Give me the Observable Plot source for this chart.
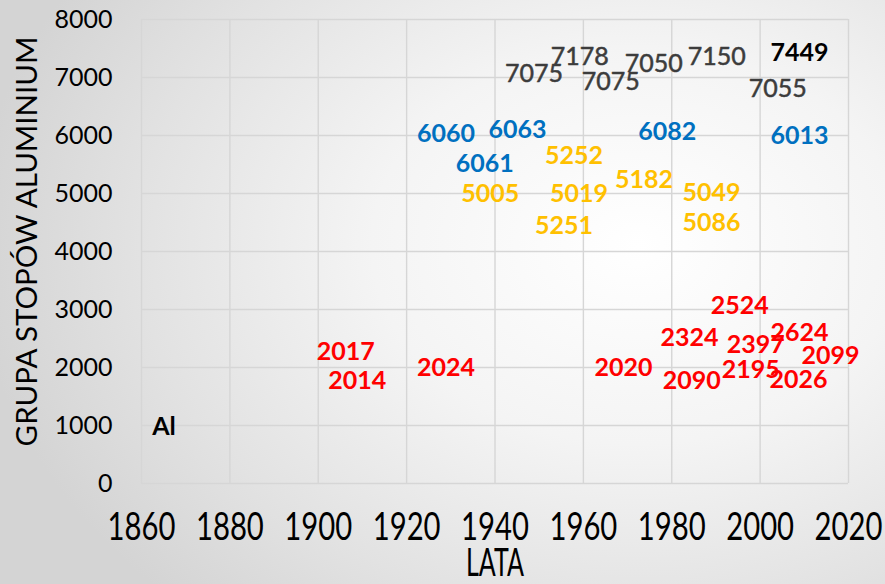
<!DOCTYPE html>
<html>
<head>
<meta charset="utf-8">
<script src="https://cdn.jsdelivr.net/npm/d3@7"></script>
<script src="https://cdn.jsdelivr.net/npm/@observablehq/plot@0.6"></script>
<style>
  html, body { margin: 0; padding: 0; }
  body {
    width: 885px; height: 584px; overflow: hidden;
    background: radial-gradient(ellipse 75% 85% at 72% 42%, #ffffff 0%, #f4f4f4 40%, #e2e2e2 75%, #d4d4d4 100%);
  }
</style>
</head>
<body>
<div id="chart"></div>
<script>
// Tick values
const xTicks = [1860, 1880, 1900, 1920, 1940, 1960, 1980, 2000, 2020];
const yTicks = [0, 1000, 2000, 3000, 4000, 5000, 6000, 7000, 8000];

// Series 7xxx (grey)
const s7Labels = ["7075", "7178", "7075", "7050", "7150", "7055"];
const s7Years  = [1948.8, 1959.2, 1966.2, 1975.9, 1990.2, 2004.0];
const s7Values = [7057, 7345, 6931, 7241, 7352, 6810];

// 7449 and Al (black)
const sBlackLabels = ["7449", "Al"];
const sBlackYears  = [2008.9, 1865.1];
const sBlackValues = [7431, 974];

// Series 6xxx (blue)
const s6Labels = ["6060", "6063", "6061", "6082", "6013"];
const s6Years  = [1928.9, 1945.1, 1937.7, 1979.0, 2008.9];
const s6Values = [6034, 6103, 5517, 6060, 5983];

// Series 5xxx (yellow)
const s5Labels = ["5252", "5005", "5019", "5182", "5049", "5251", "5086"];
const s5Years  = [1957.9, 1938.9, 1959.0, 1973.7, 1989.0, 1955.6, 1989.0];
const s5Values = [5638, 4983, 4983, 5241, 5017, 4448, 4483];

// Series 2xxx (red)
const s2Labels = ["2524", "2324", "2397", "2624", "2099", "2017", "2014", "2024", "2020", "2090", "2195", "2026"];
const s2Years  = [1995.4, 1984.0, 1999.0, 2008.9, 2015.9, 1906.2, 1908.8, 1928.9, 1969.1, 1984.5, 1997.9, 2008.7];
const s2Values = [3052, 2517, 2388, 2603, 2190, 2259, 1759, 2000, 2000, 1759, 1957, 1776];

const rows = (labels, years, values, color) =>
  labels.map((l, i) => ({label: l, year: years[i], value: values[i], color}));

const grey = rows(s7Labels, s7Years, s7Values, "#3c3c3c");
const bold = [
  ...rows(sBlackLabels, sBlackYears, sBlackValues, "#000000"),
  ...rows(s6Labels, s6Years, s6Values, "#0070C0"),
  ...rows(s5Labels, s5Years, s5Values, "#FFC000"),
  ...rows(s2Labels, s2Years, s2Values, "#FF0000")
];

const chart = Plot.plot({
  width: 885,
  height: 584,
  marginLeft: 141,
  marginRight: 37,
  marginTop: 19,
  marginBottom: 101,
  style: {background: "transparent", fontFamily: "Lato, sans-serif", overflow: "visible", color: "#000"},
  x: {domain: [1860, 2020]},
  y: {domain: [0, 8000]},
  color: {type: "identity"},
  marks: [
    Plot.gridX(xTicks, {stroke: "#d6d6d6", strokeOpacity: 1, strokeWidth: 1.4}),
    Plot.gridY(yTicks, {stroke: "#d6d6d6", strokeOpacity: 1, strokeWidth: 1.4}),
    Plot.axisX(xTicks, {
      tickSize: 0, tickPadding: 30, fontSize: 38,
      tickFormat: "d", label: "LATA", labelAnchor: "center", labelArrow: "none", labelOffset: 92
    }),
    Plot.axisY(yTicks, {tickSize: 0, tickPadding: 29, fontSize: 25, tickFormat: "d", label: null}),
    Plot.text(["GRUPA STOPÓW ALUMINIUM"], {
      frameAnchor: "left", textAnchor: "middle", rotate: -90, dx: -114, dy: -10, fontSize: 29.5, fill: "#000"
    }),
    Plot.text(grey, {x: "year", y: "value", text: "label", fill: "color", stroke: "color", strokeWidth: 0.5, fontSize: 25}),
    Plot.text(bold, {x: "year", y: "value", text: "label", fill: "color", fontSize: 25, fontWeight: "bold"})
  ]
});

// Condense x-axis texts horizontally (reference uses a narrow, tall face)
function squeeze(sel, k) {
  chart.querySelectorAll(sel).forEach(t => {
    const x = +(t.getAttribute("x") || 0);
    const tr = t.getAttribute("transform") || "";
    t.setAttribute("x", 0);
    t.setAttribute("transform", `${tr} translate(${x},0) scale(${k},1)`);
  });
}
squeeze('g[aria-label="x-axis tick label"] text', 0.77);
squeeze('g[aria-label="x-axis label"] text', 0.66);

document.getElementById("chart").appendChild(chart);
</script>
</body>
</html>
